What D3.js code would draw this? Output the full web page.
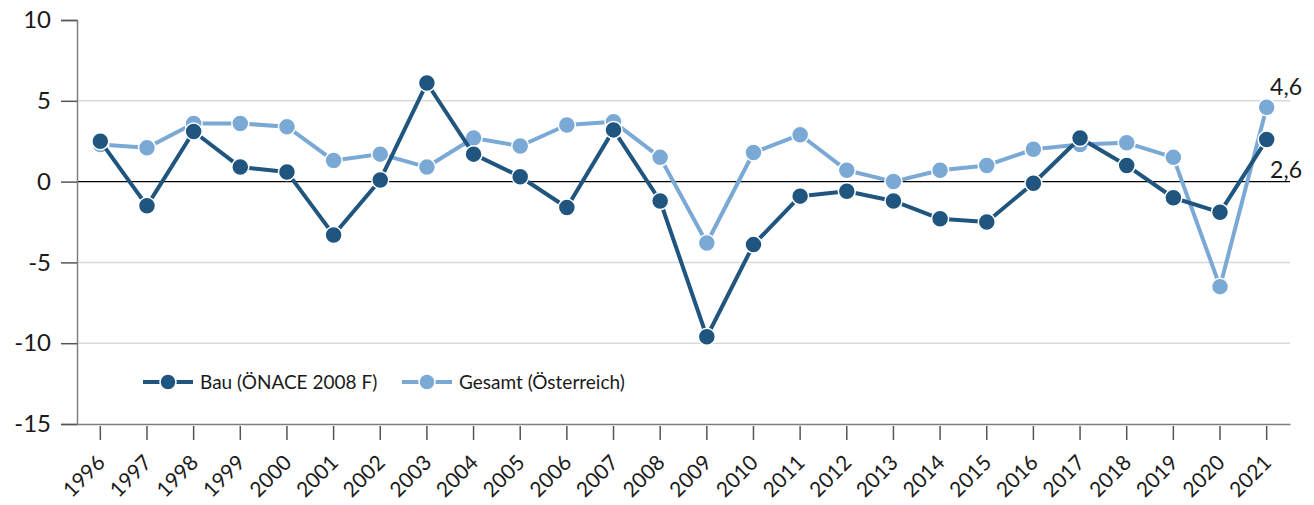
<!DOCTYPE html>
<html><head><meta charset="utf-8">
<script src="https://cdn.jsdelivr.net/npm/d3@7"></script>
<style>body{margin:0;background:#fff}svg{display:block}text{font-family:Lato,"Open Sans",sans-serif;fill:#1a1a1a}</style>
</head><body><svg id="c" width="1314" height="505"></svg>
<script>
const years = ["1996","1997","1998","1999","2000","2001","2002","2003","2004","2005","2006","2007","2008","2009","2010","2011","2012","2013","2014","2015","2016","2017","2018","2019","2020","2021"];
const bau = [2.5,-1.5,3.1,0.9,0.6,-3.3,0.1,6.1,1.7,0.3,-1.6,3.2,-1.2,-9.6,-3.9,-0.9,-0.6,-1.2,-2.3,-2.5,-0.1,2.7,1.0,-1.0,-1.9,2.6];
const gesamt = [2.3,2.1,3.6,3.6,3.4,1.3,1.7,0.9,2.7,2.2,3.5,3.7,1.5,-3.8,1.8,2.9,0.7,0.0,0.7,1.0,2.0,2.3,2.4,1.5,-6.5,4.6];
const yTicks = [10,5,0,-5,-10,-15];
const seriesNames = ["Bau (ÖNACE 2008 F)","Gesamt (Österreich)"];
const endLabels = ["2,6","4,6"];
const colors = ["#1f557e","#7ba9d5"];

const svg = d3.select("#c");
const L=77, R=1290, T=20, B=424;
const x = d3.scaleBand().domain(years).range([L,R]);
const y = d3.scaleLinear().domain([-15,10]).range([B,T]);
const cx = d => x(d)+x.bandwidth()/2;

// gridlines
svg.append("g").selectAll("line").data(yTicks.filter(v=>v!==0&&v!==-15&&v!==10)).join("line")
  .attr("x1",L).attr("x2",R).attr("y1",d=>y(d)).attr("y2",d=>y(d))
  .attr("stroke","#d9d9d9").attr("stroke-width",1.5);
svg.append("line").attr("x1",L).attr("x2",R).attr("y1",y(0)).attr("y2",y(0)).attr("stroke","#000").attr("stroke-width",1.3);

// y axis
const ya = svg.append("g").attr("transform",`translate(${L},0)`)
  .call(d3.axisLeft(y).tickValues(yTicks).tickSize(16).tickPadding(10).tickFormat(d=>String(d)));
ya.select(".domain").attr("stroke","#7f7f7f").attr("stroke-width",1.5);
ya.selectAll(".tick line").attr("stroke","#555").attr("stroke-width",1.5);
ya.selectAll("text").style("font-size","24px").attr("fill","#1a1a1a").style("font-family","Lato,sans-serif");

// x axis
const xa = svg.append("g").attr("transform",`translate(0,${B})`)
  .call(d3.axisBottom(x).tickSize(16).tickPadding(4).tickSizeOuter(0));
xa.select(".domain").attr("stroke","#7f7f7f").attr("stroke-width",1.5);
xa.selectAll(".tick line").attr("stroke","#555").attr("stroke-width",1.5).attr("y1",2);
xa.selectAll(".tick text").style("font-size","21px").style("font-family","Lato,sans-serif").attr("fill","#1a1a1a")
  .attr("text-anchor","end").attr("dy",0).attr("y",0)
  .attr("transform","translate(6,40) rotate(-45)");

// lines
const line = d3.line().x((d,i)=>cx(years[i])).y(d=>y(d));
[[gesamt,colors[1]],[bau,colors[0]]].forEach(([data,col])=>{
  svg.append("path").datum(data).attr("d",line).attr("fill","none").attr("stroke",col).attr("stroke-width",4).attr("stroke-linejoin","round");
  svg.append("g").selectAll("circle").data(data).join("circle")
    .attr("cx",(d,i)=>cx(years[i])).attr("cy",d=>y(d)).attr("r",8.5)
    .attr("fill",col).attr("stroke","#fff").attr("stroke-width",1.5);
});

// end labels
svg.append("text").attr("x",1302).attr("y",95).attr("text-anchor","end").style("font-size","23px").text(endLabels[1]);
svg.append("text").attr("x",1302).attr("y",178).attr("text-anchor","end").style("font-size","23px").text(endLabels[0]);

// legend
const lg = svg.append("g").attr("transform","translate(0,382)");
[[143,seriesNames[0],colors[0]],[402,seriesNames[1],colors[1]]].forEach(([lx,name,col])=>{
  lg.append("line").attr("x1",lx).attr("x2",lx+50).attr("y1",0).attr("y2",0).attr("stroke",col).attr("stroke-width",4);
  lg.append("circle").attr("cx",lx+25).attr("cy",0).attr("r",8).attr("fill",col).attr("stroke","#fff").attr("stroke-width",1.5);
  lg.append("text").attr("x",lx+57).attr("y",7).style("font-size","19px").text(name);
});
</script></body></html>
